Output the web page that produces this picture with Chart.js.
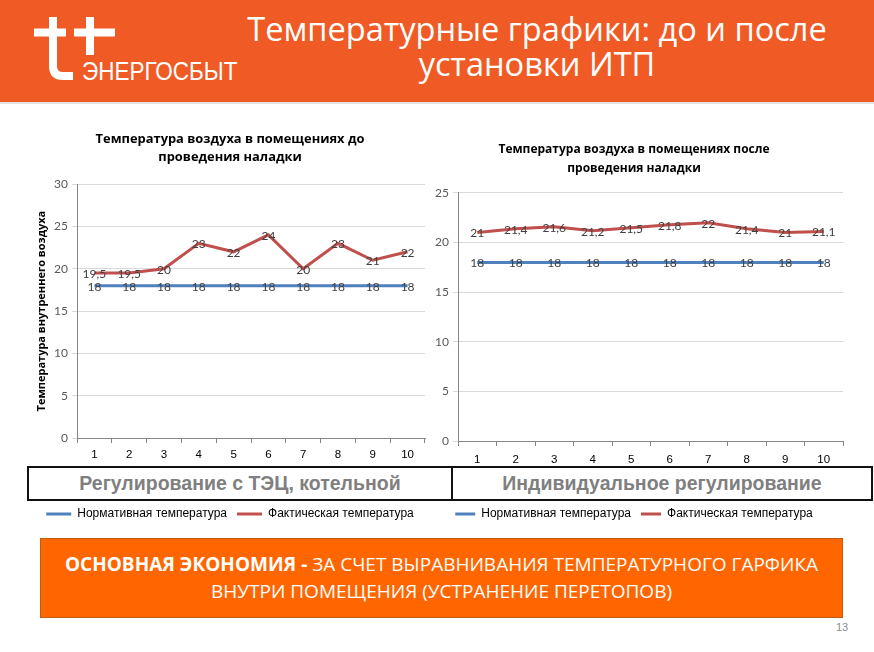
<!DOCTYPE html>
<html lang="ru">
<head>
<meta charset="utf-8">
<title>Температурные графики</title>
<script src="https://cdn.jsdelivr.net/npm/chart.js@4.4.1/dist/chart.umd.min.js"></script>
<style>
  body { margin: 0; width: 874px; height: 652px; position: relative; overflow: hidden; background: #fff; font-family: "Liberation Sans", Arial, sans-serif; }
  .header { position: absolute; left: 0; top: 0; width: 874px; height: 102px; background: #F05A24; border-bottom: 2px solid #e3e3e3; }
  .logo { position: absolute; left: 0; top: 0; }
  .brand { position: absolute; left: 82px; top: 57px; color: #fff; font: 25px/28px "Liberation Sans", sans-serif; transform: scaleX(0.9); transform-origin: left top; }
  .head-title { position: absolute; left: 200px; top: 11px; width: 674px; text-align: center; color: #fff; font: 32.6px/35px "Open Sans", sans-serif; }
  .chart { position: absolute; }
  .band { position: absolute; left: 27px; top: 466px; width: 842px; height: 31px; border: 2px solid #111; background: #fff; display: flex; }
  .band div { flex: none; display: flex; align-items: center; justify-content: center; color: #7f7f7f; font: bold 19.5px "Liberation Sans", sans-serif; }
  .band .c1 { width: 422px; border-right: 2px solid #111; }
  .band .c2 { width: 418px; }
  .note { position: absolute; left: 40px; top: 538px; width: 801px; height: 78px; background: #FF6600; border: 1px solid #c55a11; display: flex; align-items: center; justify-content: center; text-align: center; color: #fff; font: 19px/27px "Open Sans", sans-serif; }
  .page { position: absolute; left: 836px; top: 621px; color: #8c8c8c; font: 11px "Liberation Sans", sans-serif; }
</style>
</head>
<body>
<div class="header">
  <svg class="logo" width="130" height="100" viewBox="0 0 130 100">
    <g fill="none" stroke="#fff" stroke-width="8">
      <path d="M53 17 V66 Q53 76 63 76 H73"/>
      <path d="M34 32.5 H66"/>
      <path d="M90 17 V55"/>
      <path d="M74 32.5 H115"/>
    </g>
  </svg>
  <div class="brand">ЭНЕРГОСБЫТ</div>
  <div class="head-title">Температурные графики: до и после<br>установки ИТП</div>
</div>

<canvas id="chartBefore" class="chart" width="440" height="412" style="left:0;top:118px"></canvas>
<canvas id="chartAfter" class="chart" width="449" height="412" style="left:425px;top:118px"></canvas>

<div class="band">
  <div class="c1">Регулирование с ТЭЦ, котельной</div>
  <div class="c2">Индивидуальное регулирование</div>
</div>

<div class="note"><div><b>ОСНОВНАЯ ЭКОНОМИЯ -</b> ЗА СЧЕТ ВЫРАВНИВАНИЯ ТЕМПЕРАТУРНОГО ГАРФИКА<br>ВНУТРИ ПОМЕЩЕНИЯ (УСТРАНЕНИЕ ПЕРЕТОПОВ)</div></div>
<div class="page">13</div>

<script>
// Data
const categories = ['1', '2', '3', '4', '5', '6', '7', '8', '9', '10'];
const normBefore = [18, 18, 18, 18, 18, 18, 18, 18, 18, 18];
const factBefore = [19.5, 19.5, 20, 23, 22, 24, 20, 23, 21, 22];
const normAfter = [18, 18, 18, 18, 18, 18, 18, 18, 18, 18];
const factAfter = [21, 21.4, 21.6, 21.2, 21.5, 21.8, 22, 21.4, 21, 21.1];
const seriesNames = ['Нормативная температура', 'Фактическая температура'];

const BLUE = '#4F81BD';
const RED = '#C0504D';

Chart.defaults.font.family = 'Lato, "Open Sans", sans-serif';
Chart.defaults.color = '#595959';

function fmt(v) {
  return String(v).replace('.', ',');
}

// draws the value of every point right on top of it, like Excel "center" labels
const valueLabels = {
  id: 'valueLabels',
  afterDatasetsDraw(chart) {
    const ctx = chart.ctx;
    ctx.save();
    ctx.font = '12px Lato, sans-serif';
    ctx.fillStyle = '#404040';
    ctx.textAlign = 'center';
    ctx.textBaseline = 'middle';
    chart.data.datasets.forEach((ds, i) => {
      chart.getDatasetMeta(i).data.forEach((pt, j) => {
        ctx.fillText(fmt(ds.data[j]), pt.x, pt.y + 1);
      });
    });
    ctx.restore();
  }
};

function makeChart(id, norm, fact, cfg) {
  const ctx = document.getElementById(id).getContext('2d');
  return new Chart(ctx, {
    type: 'line',
    data: {
      labels: categories,
      datasets: [
        { label: seriesNames[0], data: norm, borderColor: BLUE, backgroundColor: BLUE, borderWidth: 3, pointRadius: 0, tension: 0 },
        { label: seriesNames[1], data: fact, borderColor: RED, backgroundColor: RED, borderWidth: 3, pointRadius: 0, tension: 0 }
      ]
    },
    options: {
      responsive: false,
      animation: false,
      events: [],
      layout: { padding: cfg.padding },
      plugins: {
        title: {
          display: true,
          text: cfg.title,
          color: '#000',
          font: { family: '"Open Sans", sans-serif', size: cfg.titleSize, weight: 'bold', lineHeight: cfg.titleLine },
          padding: cfg.titlePadding
        },
        legend: {
          position: 'bottom',
          labels: {
            color: '#000',
            font: { family: '"Liberation Sans", sans-serif', size: 12 },
            usePointStyle: true,
            pointStyle: 'line',
            pointStyleWidth: cfg.legendBox,
            padding: 10
          }
        },
        tooltip: { enabled: false }
      },
      scales: {
        x: {
          offset: true,
          grid: { offset: true, drawOnChartArea: false, drawTicks: true, tickLength: 5, color: '#868686' },
          border: { color: '#868686' },
          ticks: { padding: cfg.xPad, color: '#000', font: { family: '"Liberation Sans", sans-serif', size: 11.5 } },
          afterFit: (scale) => { scale.height = cfg.xHeight; }
        },
        y: {
          min: 0,
          max: cfg.yMax,
          ticks: { stepSize: 5, padding: 4, color: '#595959', font: { size: 12 } },
          grid: { color: '#d9d9d9', tickLength: 5 },
          border: { color: '#868686' },
          title: {
            display: !!cfg.yTitle,
            text: cfg.yTitle,
            color: '#000',
            font: { family: '"Open Sans", sans-serif', size: 11, weight: 'bold' },
            padding: 0
          },
          afterFit: (scale) => { scale.width = cfg.yWidth; }
        }
      }
    },
    plugins: [valueLabels]
  });
}

makeChart('chartBefore', normBefore, factBefore, {
  title: ['Температура воздуха в помещениях до', 'проведения наладки'],
  titleSize: 12.9,
  titleLine: 1.4,
  titlePadding: { top: 12, bottom: 18 },
  padding: { left: 35, right: 15, top: 0, bottom: 0 },
  yWidth: 42,
  yMax: 30,
  yTitle: 'Температура внутреннего воздуха',
  xHeight: 60,
  xPad: 5,
  legendBox: 25
});

makeChart('chartAfter', normAfter, factAfter, {
  title: ['Температура воздуха в помещениях после', 'проведения наладки'],
  titleSize: 12,
  titleLine: 1.58,
  titlePadding: { top: 22, bottom: 15 },
  padding: { left: 0, right: 31, top: 0, bottom: 0 },
  yWidth: 33,
  yMax: 25,
  yTitle: '',
  xHeight: 57,
  xPad: 7,
  legendBox: 20
});
</script>
</body>
</html>
